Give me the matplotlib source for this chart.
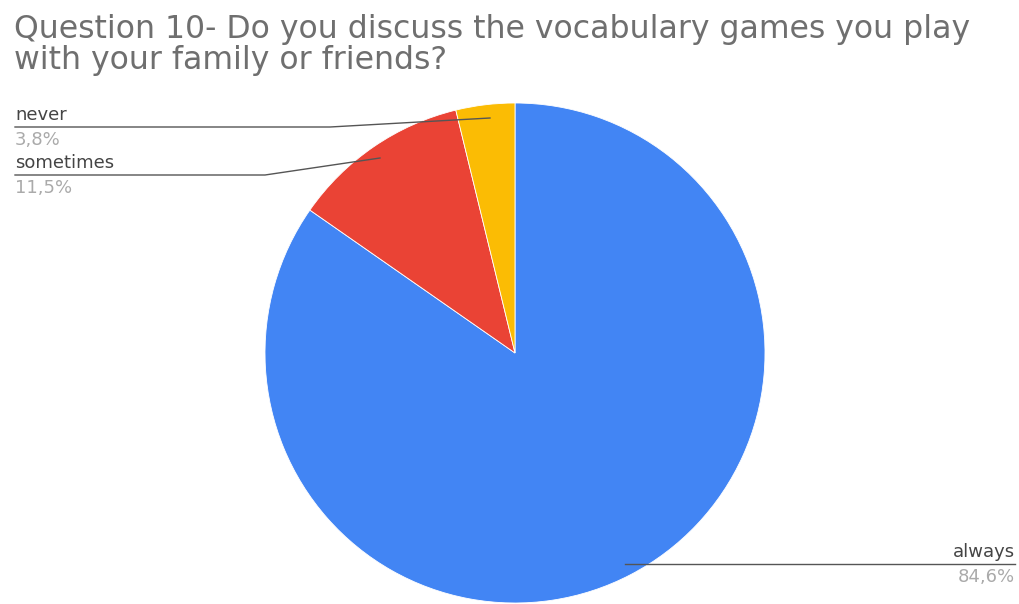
import matplotlib.pyplot as plt

labels = ["always", "sometimes", "never"]
values = [84.6, 11.5, 3.8]
pct_text = ["84,6%", "11,5%", "3,8%"]
colors = ["#4285F4", "#EA4335", "#FBBC04"]

W, H = 1020, 604

def Y(y):
    # pixel rows counted from the top
    return H - y

fig = plt.figure(figsize=(W / 100, H / 100), dpi=100)
ax = fig.add_axes([0, 0, 1, 1])
ax.axis("off")

ax.pie(values, colors=colors, startangle=90, counterclock=False,
       center=(515, Y(353)), radius=250,
       wedgeprops=dict(linewidth=0.6, edgecolor="white"))
ax.set_xlim(0, W)
ax.set_ylim(0, H)
ax.set_aspect("equal")

font = "DejaVu Sans"
ax.text(14, Y(14), "Question 10- Do you discuss the vocabulary games you play\nwith your family or friends?",
        fontsize=22.7, color="#6f6f6f", family=font, va="top", ha="left", linespacing=0.98)

line_c = "#555555"
lab_c = "#444444"
pct_c = "#aaaaaa"
fs = 13
# never
ax.plot([15, 330, 490], [Y(127), Y(127), Y(118)], color=line_c, lw=1)
ax.text(15, Y(124), labels[2], fontsize=fs, color=lab_c, family=font, va="bottom")
ax.text(15, Y(131), pct_text[2], fontsize=fs, color=pct_c, family=font, va="top")
# sometimes
ax.plot([15, 265, 380], [Y(175), Y(175), Y(158)], color=line_c, lw=1)
ax.text(15, Y(172), labels[1], fontsize=fs, color=lab_c, family=font, va="bottom")
ax.text(15, Y(179), pct_text[1], fontsize=fs, color=pct_c, family=font, va="top")
# always
ax.plot([625, 1015], [Y(564), Y(564)], color=line_c, lw=1)
ax.text(1015, Y(561), labels[0], fontsize=fs, color=lab_c, family=font, va="bottom", ha="right")
ax.text(1015, Y(568), pct_text[0], fontsize=fs, color=pct_c, family=font, va="top", ha="right")

fig.savefig("out.png", dpi=100)
